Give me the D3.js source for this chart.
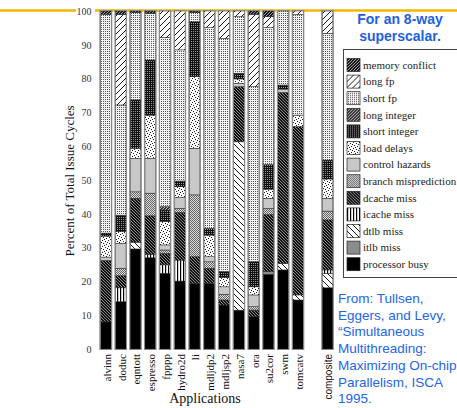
<!DOCTYPE html>
<html>
<head>
<meta charset="utf-8">
<script src="https://cdn.jsdelivr.net/npm/d3@7"></script>
<style>
  body { margin: 0; background: #fff; }
  svg { display: block; }
</style>
</head>
<body>
<svg id="chart" width="457" height="408"></svg>
<script>
// applications, left to right (composite sits after a blank slot)
const apps = ["alvinn", "doduc", "eqntott", "espresso", "fpppp", "hydro2d", "li",
              "mdljdp2", "mdljsp2", "nasa7", "ora", "su2cor", "swm", "tomcatv", "composite"];

// percent of issue cycles, one array per cause, same order as apps
const busy     = [8, 14, 29.6, 27, 22.4, 20.1, 19.4, 19.4, 13, 11.5, 9.6, 22.1, 23.4, 14.5, 18.1];
const itlb     = [0, 0, 0, 0, 0, 0, 0, 0, 0, 0, 0, 0.8, 0, 0, 0];
const dtlb     = [0, 0, 2, 0, 0, 0, 0, 0, 0, 49.8, 0, 0, 1.9, 1.5, 4.3];
const icache   = [0, 4.1, 0, 1, 2.5, 6.2, 0, 0, 0, 0, 0, 0, 0, 0, 1];
const dcache   = [18.2, 3.6, 13, 11.4, 3.4, 14.1, 7.9, 4.5, 1.5, 16.3, 1.9, 16.9, 50.6, 49.8, 14.8];
const branch   = [0, 2.2, 1.9, 6.7, 1, 1.2, 18.3, 1.9, 1.7, 0, 1, 1.8, 0, 0, 2.6];
const control  = [1, 7.4, 9.9, 10.3, 1.5, 3.2, 13.8, 1.5, 2.2, 1, 3.5, 3, 1, 0, 3.8];
const loadDly  = [6.2, 3.4, 3, 12.8, 6.9, 3.2, 21.2, 6.4, 2.7, 1.3, 2.4, 2.7, 0, 3.4, 5.7];
const shortInt = [0.9, 4.9, 14.3, 16.3, 3.4, 1.7, 16.2, 2, 1.8, 1.7, 7.4, 7.3, 1.2, 0, 5.6];
const longInt  = [0, 0, 0, 0, 1, 0, 0, 0, 0, 0, 0, 0, 0, 0, 0];
const shortFp  = [64.7, 32.6, 25.8, 13.8, 50.1, 38.8, 2.7, 59.4, 69, 16.7, 51.8, 40.5, 21.9, 29.8, 37.5];
const longFp   = [0, 26.8, 0, 0, 7.8, 11.5, 0, 4.9, 8.1, 1.7, 21.4, 3.2, 0, 1, 6.6];
const memory   = [1, 1, 0.5, 0.7, 0, 0, 0.5, 0, 0, 0, 1, 1.7, 0, 0, 0];

// stacking order, bottom to top
const keys   = ["busy", "itlb", "dtlb", "icache", "dcache", "branch", "control",
                "loadDly", "shortInt", "longInt", "shortFp", "longFp", "memory"];
const names  = ["processor busy", "itlb  miss", "dtlb miss", "icache miss", "dcache miss",
                "branch misprediction", "control hazards", "load delays", "short integer",
                "long integer", "short fp", "long fp", "memory conflict"];
const yTicks = [0, 10, 20, 30, 40, 50, 60, 70, 80, 90, 100];
const noteLines = ["From: Tullsen,", "Eggers, and Levy,", "\u201cSimultaneous",
                   "Multithreading:", "Maximizing On-chip", "Parallelism, ISCA", "1995."];

const cols = { busy, itlb, dtlb, icache, dcache, branch, control,
               loadDly, shortInt, longInt, shortFp, longFp, memory };
const rows = apps.map((a, i) => {
    const r = { app: a };
    keys.forEach(k => r[k] = cols[k][i]);
    return r;
});

const svg = d3.select("#chart");
const defs = svg.append("defs");

// fill patterns, roughly like the old printer hatching
function pat(id, w, h, bg, draw) {
    const p = defs.append("pattern").attr("id", id)
        .attr("patternUnits", "userSpaceOnUse").attr("width", w).attr("height", h);
    p.append("rect").attr("width", w).attr("height", h).attr("fill", bg);
    draw(p);
}
function dot(p, x, y, col) {
    p.append("rect").attr("x", x).attr("y", y).attr("width", 1).attr("height", 1).attr("fill", col);
}
function slash(p, s, col, sw) {
    p.append("path").attr("d", `M0,${s} L${s},0 M${-s/2},${s/2} L${s/2},${-s/2} M${s/2},${s*1.5} L${s*1.5},${s/2}`)
        .attr("stroke", col).attr("stroke-width", sw);
}
function back(p, s, col, sw) {
    p.append("path").attr("d", `M0,0 L${s},${s} M${-s/2},${s/2} L${s/2},${s*1.5} M${s/2},${-s/2} L${s*1.5},${s/2}`)
        .attr("stroke", col).attr("stroke-width", sw);
}
pat("p-memory", 3, 3, "#1a1a1a", p => slash(p, 3, "#bbb", 0.8));
pat("p-longFp", 6, 6, "#fff", p => slash(p, 6, "#000", 0.9));
pat("p-shortFp", 2, 2, "#f2f2f2", p => dot(p, 1, 1, "#555"));
pat("p-longInt", 3, 3, "#333", p => slash(p, 3, "#ddd", 0.8));
pat("p-shortInt", 2, 2, "#111", p => dot(p, 1, 1, "#999"));
pat("p-loadDly", 6, 6, "#fff", p => {
    [[0, 0], [3, 1], [1, 3], [4, 4], [5, 2], [2, 5]].forEach(([x, y]) => dot(p, x, y, "#222"));
});
pat("p-control", 4, 4, "#c8c8c8", p => {});
pat("p-branch", 2, 2, "#dcdcdc", p => { dot(p, 0, 0, "#666"); dot(p, 1, 1, "#666"); });
pat("p-dcache", 3, 3, "#111", p => back(p, 3, "#aaa", 0.8));
pat("p-icache", 3, 3, "#fff", p => p.append("rect").attr("width", 1.2).attr("height", 3).attr("fill", "#000"));
pat("p-dtlb", 6, 6, "#fff", p => back(p, 6, "#000", 0.9));
pat("p-itlb", 4, 4, "#8c8c8c", p => {});
pat("p-busy", 4, 4, "#000", p => {});

// orange slide rule behind everything
svg.append("line").attr("x1", 0).attr("x2", 76).attr("y1", 10.5).attr("y2", 10.5)
    .attr("stroke", "#f2b705").attr("stroke-width", 2.5);
svg.append("line").attr("x1", 95).attr("x2", 457).attr("y1", 10.5).attr("y2", 10.5)
    .attr("stroke", "#f2b705").attr("stroke-width", 2.5);

const slots = [...apps.slice(0, 14), " ", "composite"];
const x = d3.scaleBand().domain(slots).range([96.5, 337]).padding(0.28);
const y = d3.scaleLinear().domain([0, 100]).range([349, 11]);

// y axis
const yAxis = svg.append("g").attr("transform", "translate(99.5,0)")
    .call(d3.axisLeft(y).tickValues(yTicks).tickSize(0).tickPadding(8));
yAxis.select(".domain").attr("stroke", "#888").attr("stroke-width", 1);
yAxis.selectAll("text").attr("font-family", "Liberation Serif, serif")
    .attr("font-size", 10).attr("fill", "#334");

svg.append("text").attr("transform", "translate(74,181) rotate(-90)")
    .attr("text-anchor", "middle").attr("font-family", "Liberation Serif, serif")
    .attr("font-size", 13).attr("fill", "#111").text("Percent of Total Issue Cycles");

// stacked bars
const stack = d3.stack().keys(keys)(rows);
const bars = svg.append("g");
stack.forEach(layer => {
    bars.append("g").selectAll("rect")
        .data(layer.filter(d => d[1] - d[0] > 0))
        .join("rect")
        .attr("x", d => x(d.data.app))
        .attr("width", x.bandwidth())
        .attr("y", d => y(d[1]))
        .attr("height", d => y(d[0]) - y(d[1]))
        .attr("fill", `url(#p-${layer.key})`)
        .attr("stroke", "#222").attr("stroke-width", 0.5);
});
bars.selectAll(".frame").data(rows).join("rect").attr("class", "frame")
    .attr("x", d => x(d.app) - 0.5).attr("width", x.bandwidth() + 1)
    .attr("y", y(100) - 0.5).attr("height", y(0) - y(100) + 1)
    .attr("fill", "none").attr("stroke", "#8a8a8a").attr("stroke-width", 1);

// category labels
svg.append("g").selectAll("text").data(apps).join("text")
    .attr("transform", d => `translate(${x(d) + x.bandwidth() / 2 + 1},354) rotate(-90)`)
    .attr("text-anchor", "end").attr("dy", "0.35em")
    .attr("font-family", d => d === "composite" ? "Liberation Sans, sans-serif" : "Liberation Serif, serif")
    .attr("font-size", d => d === "composite" ? 10 : 11).attr("fill", "#111").text(d => d);

svg.append("text").attr("x", 205).attr("y", 403).attr("text-anchor", "middle")
    .attr("font-family", "Liberation Serif, serif").attr("font-size", 14)
    .attr("fill", "#111").text("Applications");

// title
svg.append("text").attr("x", 400).attr("y", 24).attr("text-anchor", "middle")
    .attr("font-family", "Liberation Sans, Arial, sans-serif").attr("font-weight", "bold")
    .attr("font-size", 14).attr("fill", "#1f5fe0").text("For an 8-way");
svg.append("text").attr("x", 400).attr("y", 41).attr("text-anchor", "middle")
    .attr("font-family", "Liberation Sans, Arial, sans-serif").attr("font-weight", "bold")
    .attr("font-size", 14).attr("fill", "#1f5fe0").text("superscalar.");

// legend, top to bottom is the reverse of the stack
const lg = svg.append("g");
lg.append("rect").attr("x", 343.5).attr("y", 49.5).attr("width", 120).attr("height", 228)
    .attr("fill", "#fff").attr("stroke", "#444").attr("stroke-width", 1);
const legendKeys = keys.slice().reverse();
const legendNames = names.slice().reverse();
const item = lg.selectAll(".item").data(legendKeys).join("g").attr("class", "item")
    .attr("transform", (d, i) => `translate(347,${65 + i * 16.6})`);
item.append("rect").attr("x", 0).attr("y", -6.5).attr("width", 13).attr("height", 13)
    .attr("fill", d => `url(#p-${d})`).attr("stroke", "#222").attr("stroke-width", 0.7);
item.append("text").attr("x", 16).attr("dy", "0.35em")
    .attr("font-family", "Liberation Serif, serif").attr("font-size", 11)
    .attr("fill", "#222").text((d, i) => legendNames[i]);

// source note
svg.append("g").selectAll("text").data(noteLines).join("text")
    .attr("x", 338).attr("y", (d, i) => 303 + i * 16.7)
    .attr("font-family", "Liberation Sans, Arial, sans-serif").attr("font-size", 13.5)
    .attr("fill", "#2366e6").text(d => d);
</script>
</body>
</html>
